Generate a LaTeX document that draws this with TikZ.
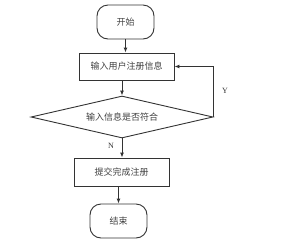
\documentclass[tikz,border=0pt]{standalone}
\usepackage{fontspec}
\setmainfont{Liberation Serif}
\newfontfamily\cjk{Noto Sans CJK SC}
\usetikzlibrary{shapes.geometric,arrows.meta}
\begin{document}
\begin{tikzpicture}[x=1pt,y=-1pt,
  every node/.style={font=\cjk\fontsize{9}{10}\selectfont, text=black!75},
  term/.style={draw=black!80, line width=0.9pt, rounded corners=11pt, minimum width=57pt, minimum height=34pt, inner sep=0pt},
  proc/.style={draw=black!80, line width=0.9pt, minimum width=95pt, minimum height=27pt, inner sep=0pt},
  dec/.style={draw=black!80, line width=0.9pt, diamond, aspect=4.3, minimum width=182pt, minimum height=42pt, inner sep=0pt},
  arr/.style={draw=black!80, line width=0.9pt, -{Latex[length=5pt,width=4pt]}},
  lab/.style={font=\fontsize{8}{9}\selectfont, text=black!80}]
\useasboundingbox (0,0) rectangle (303,247);
\node[term] (s) at (125.5,22) {开始};
\node[proc] (r1) at (126.5,66.5) {输入用户注册信息};
\node[dec] (d) at (122,117) {输入信息是否符合};
\node[proc, minimum height=28pt] (r2) at (121.5,172) {提交完成注册};
\node[term] (e) at (118.5,221) {结束};
\draw[arr] (s.south) -- (s.south |- r1.north);
\draw[arr] (d.north |- r1.south) -- (d.north);
\draw[arr] (d.south) -- (d.south |- r2.north);
\draw[arr] (e.north |- r2.south) -- (e.north);
\draw[arr] (d.east) |- (r1.east);
\node[lab] (y) at (225,91) {Y};
\node[lab] (n) at (111,146) {N};
\end{tikzpicture}
\end{document}
